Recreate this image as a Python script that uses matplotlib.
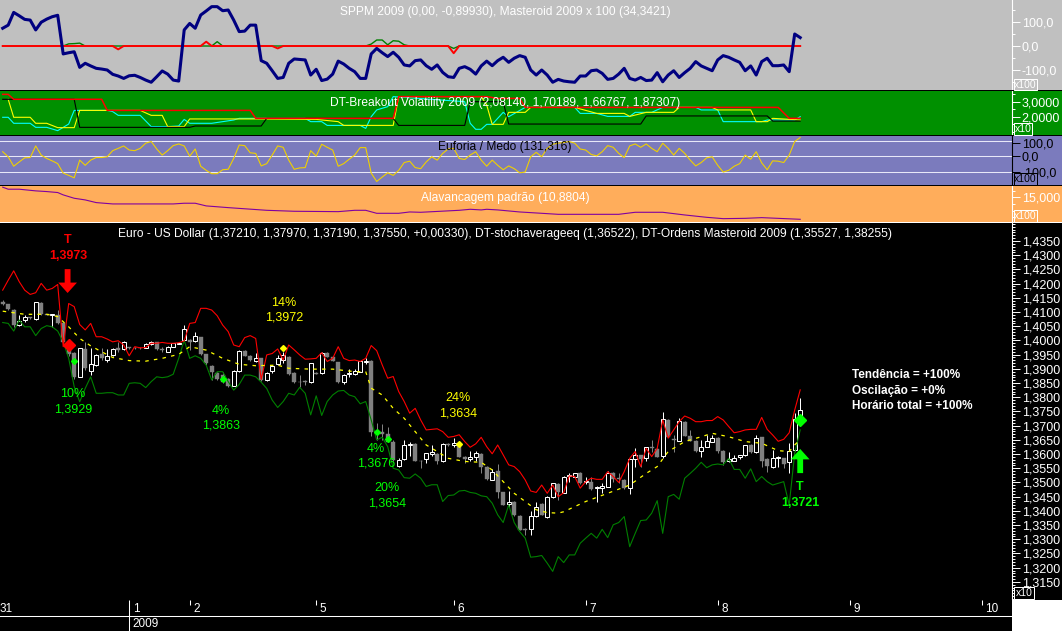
import numpy as np
import matplotlib
matplotlib.use("Agg")
import matplotlib.pyplot as plt
from matplotlib.patches import Rectangle
from matplotlib.ticker import FixedLocator, FixedFormatter, MultipleLocator, FuncFormatter

plt.rcParams["font.family"] = ["Liberation Sans", "DejaVu Sans"]

# hourly candles, EUR/USD
opens = [1.4134,1.4128,1.4107,1.4054,1.4072,1.4081,1.4074,1.4131,1.4093,1.4089,
         1.4089,1.4060,1.3995,1.3955,1.3872,1.3970,1.3893,1.3913,1.3951,1.3931,
         1.3949,1.3972,1.3970,1.3976,1.3975,1.3975,1.3975,1.3987,1.3993,1.3969,
         1.3960,1.3978,1.3989,1.4001,1.4001,1.3999,1.4011,1.3951,1.3910,1.3884,
         1.3878,1.3864,1.3840,1.3893,1.3962,1.3945,1.3927,1.3937,1.3861,1.3893,
         1.3917,1.3931,1.3941,1.3887,1.3855,1.3856,1.3852,1.3885,1.3885,1.3957,
         1.3941,1.3923,1.3855,1.3882,1.3881,1.3890,1.3925,1.3928,1.3680,1.3677,
         1.3671,1.3644,1.3559,1.3583,1.3632,1.3636,1.3577,1.3582,1.3601,1.3601,
         1.3574,1.3636,1.3631,1.3638,1.3590,1.3582,1.3591,1.3601,1.3556,1.3510,
         1.3541,1.3465,1.3424,1.3432,1.3382,1.3336,1.3336,1.3382,1.3425,1.3378,
         1.3448,1.3495,1.3464,1.3523,1.3521,1.3535,1.3500,1.3503,1.3480,1.3482,
         1.3485,1.3535,1.3515,1.3509,1.3482,1.3582,1.3595,1.3585,1.3625,1.3618,
         1.3593,1.3720,1.3653,1.3647,1.3714,1.3664,1.3647,1.3611,1.3626,1.3644,
         1.3658,1.3611,1.3577,1.3577,1.3589,1.3595,1.3633,1.3607,1.3659,1.3583,
         1.3553,1.3586,1.3585,1.3571,1.3614,1.3721]
highs = [1.4142,1.4130,1.4110,1.4089,1.4091,1.4084,1.4136,1.4134,1.4094,1.4094,
         1.4106,1.4062,1.4000,1.3960,1.3975,1.3995,1.3972,1.3951,1.3972,1.3970,
         1.3975,1.3995,1.3998,1.3978,1.3976,1.3976,1.3990,1.3997,1.3995,1.3978,
         1.3980,1.3992,1.3995,1.4054,1.4006,1.4028,1.4013,1.3953,1.3912,1.3890,
         1.3888,1.3868,1.3895,1.3966,1.3966,1.3948,1.3955,1.3939,1.3890,1.3913,
         1.3950,1.3961,1.3945,1.3890,1.3879,1.3861,1.3922,1.3888,1.3960,1.3960,
         1.3945,1.3925,1.3881,1.3899,1.3899,1.3928,1.3937,1.3930,1.3709,1.3706,
         1.3697,1.3650,1.3585,1.3650,1.3644,1.3638,1.3580,1.3605,1.3632,1.3603,
         1.3638,1.3638,1.3658,1.3642,1.3592,1.3612,1.3612,1.3603,1.3558,1.3547,
         1.3564,1.3468,1.3470,1.3434,1.3385,1.3338,1.3398,1.3431,1.3427,1.3452,
         1.3499,1.3497,1.3523,1.3532,1.3535,1.3537,1.3518,1.3518,1.3486,1.3497,
         1.3542,1.3537,1.3532,1.3511,1.3584,1.3620,1.3597,1.3626,1.3650,1.3620,
         1.3747,1.3722,1.3667,1.3726,1.3716,1.3685,1.3649,1.3650,1.3667,1.3667,
         1.3660,1.3613,1.3609,1.3597,1.3598,1.3633,1.3635,1.3667,1.3661,1.3585,
         1.3614,1.3593,1.3587,1.3638,1.3744,1.3797]
lows = [1.4124,1.4108,1.4048,1.4050,1.4066,1.4075,1.4072,1.4090,1.4088,1.4048,
        1.4058,1.3990,1.3945,1.3866,1.3870,1.3895,1.3878,1.3910,1.3930,1.3923,
        1.3945,1.3960,1.3965,1.3970,1.3970,1.3971,1.3973,1.3985,1.3968,1.3960,
        1.3958,1.3976,1.3987,1.3998,1.3966,1.3995,1.3949,1.3915,1.3860,1.3860,
        1.3850,1.3836,1.3838,1.3890,1.3944,1.3929,1.3925,1.3858,1.3856,1.3885,
        1.3915,1.3920,1.3880,1.3850,1.3835,1.3843,1.3850,1.3881,1.3882,1.3941,
        1.3927,1.3849,1.3847,1.3870,1.3878,1.3888,1.3917,1.3664,1.3650,1.3650,
        1.3642,1.3574,1.3555,1.3580,1.3594,1.3575,1.3550,1.3568,1.3594,1.3565,
        1.3572,1.3630,1.3624,1.3589,1.3568,1.3574,1.3574,1.3533,1.3510,1.3508,
        1.3445,1.3419,1.3415,1.3382,1.3331,1.3316,1.3316,1.3380,1.3384,1.3376,
        1.3446,1.3439,1.3462,1.3503,1.3518,1.3495,1.3495,1.3475,1.3433,1.3462,
        1.3483,1.3500,1.3497,1.3478,1.3460,1.3556,1.3556,1.3577,1.3609,1.3589,
        1.3585,1.3659,1.3609,1.3645,1.3662,1.3645,1.3609,1.3589,1.3624,1.3642,
        1.3605,1.3562,1.3573,1.3575,1.3582,1.3593,1.3605,1.3605,1.3556,1.3538,
        1.3550,1.3556,1.3550,1.3532,1.3612,1.3719]
closes = [1.4129,1.4110,1.4054,1.4069,1.4084,1.4078,1.4134,1.4093,1.4090,1.4093,
          1.4062,1.3995,1.3951,1.3872,1.3972,1.3902,1.3917,1.3949,1.3937,1.3945,
          1.3970,1.3968,1.3993,1.3972,1.3972,1.3973,1.3988,1.3995,1.3970,1.3968,
          1.3978,1.3990,1.3992,1.4039,1.3993,1.4015,1.3951,1.3919,1.3890,1.3864,
          1.3855,1.3840,1.3893,1.3964,1.3946,1.3931,1.3939,1.3861,1.3886,1.3911,
          1.3939,1.3949,1.3882,1.3853,1.3853,1.3855,1.3920,1.3883,1.3957,1.3943,
          1.3929,1.3855,1.3879,1.3887,1.3892,1.3926,1.3926,1.3679,1.3677,1.3671,
          1.3644,1.3580,1.3580,1.3632,1.3635,1.3577,1.3574,1.3603,1.3607,1.3574,
          1.3636,1.3632,1.3638,1.3591,1.3582,1.3591,1.3603,1.3556,1.3513,1.3538,
          1.3465,1.3421,1.3431,1.3384,1.3333,1.3331,1.3382,1.3415,1.3386,1.3450,
          1.3497,1.3466,1.3521,1.3527,1.3532,1.3497,1.3505,1.3477,1.3484,1.3487,
          1.3532,1.3511,1.3513,1.3480,1.3582,1.3595,1.3582,1.3624,1.3623,1.3591,
          1.3722,1.3661,1.3651,1.3717,1.3664,1.3647,1.3611,1.3626,1.3646,1.3656,
          1.3611,1.3573,1.3582,1.3587,1.3596,1.3631,1.3607,1.3658,1.3577,1.3558,
          1.3585,1.3589,1.3565,1.3611,1.3725,1.3755]

upper_band = [1.4177,1.4212,1.4245,1.4207,1.4177,1.4162,1.4168,1.4201,1.4177,1.4183,
              1.4197,1.3978,1.4130,1.4119,1.4056,1.4037,1.4060,1.4013,1.4013,1.4005,
              1.3995,1.3999,1.3984,1.3946,1.3978,1.3974,1.3975,1.3990,1.3990,1.3993,
              1.3990,1.3990,1.3992,1.3998,1.4060,1.4063,1.4113,1.4113,1.4107,1.4087,
              1.4054,1.4031,1.3984,1.3978,1.4010,1.4017,1.4007,1.3863,1.3949,1.3954,
              1.3970,1.3931,1.3984,1.3967,1.3949,1.3934,1.3935,1.3937,1.3957,1.3926,
              1.3937,1.3978,1.3937,1.3929,1.3931,1.3926,1.3937,1.3982,1.3964,1.3914,
              1.3867,1.3873,1.3820,1.3785,1.3744,1.3761,1.3720,1.3685,1.3687,1.3689,
              1.3679,1.3659,1.3662,1.3668,1.3644,1.3624,1.3636,1.3659,1.3626,1.3601,
              1.3632,1.3597,1.3562,1.3556,1.3538,1.3509,1.3470,1.3465,1.3491,1.3462,
              1.3491,1.3450,1.3464,1.3523,1.3521,1.3480,1.3503,1.3515,1.3511,1.3511,
              1.3538,1.3521,1.3500,1.3538,1.3585,1.3609,1.3556,1.3620,1.3591,1.3620,
              1.3720,1.3656,1.3685,1.3714,1.3734,1.3726,1.3714,1.3714,1.3718,1.3718,
              1.3732,1.3720,1.3697,1.3675,1.3679,1.3685,1.3687,1.3687,1.3729,1.3687,
              1.3667,1.3645,1.3652,1.3675,1.3755,1.3826]
lower_band = [1.4063,1.4060,1.4033,1.4072,1.4048,1.4048,1.4017,1.4042,1.4052,1.4048,
              1.4033,1.3995,1.3937,1.3837,1.3784,1.3831,1.3872,1.3814,1.3814,1.3816,
              1.3816,1.3808,1.3808,1.3849,1.3851,1.3849,1.3834,1.3855,1.3872,1.3869,
              1.3872,1.3881,1.3937,1.4001,1.3937,1.3946,1.3937,1.3913,1.3861,1.3890,
              1.3890,1.3855,1.3825,1.3845,1.3878,1.3878,1.3872,1.3853,1.3831,1.3790,
              1.3764,1.3785,1.3814,1.3808,1.3835,1.3814,1.3738,1.3805,1.3736,1.3785,
              1.3808,1.3822,1.3824,1.3808,1.3802,1.3777,1.3785,1.3720,1.3650,1.3659,
              1.3626,1.3550,1.3544,1.3517,1.3515,1.3530,1.3515,1.3486,1.3492,1.3492,
              1.3433,1.3454,1.3456,1.3470,1.3472,1.3465,1.3462,1.3453,1.3450,1.3427,
              1.3386,1.3359,1.3421,1.3359,1.3327,1.3304,1.3237,1.3239,1.3243,1.3216,
              1.3187,1.3239,1.3218,1.3245,1.3245,1.3286,1.3304,1.3321,1.3304,1.3335,
              1.3306,1.3351,1.3359,1.3380,1.3274,1.3321,1.3366,1.3368,1.3392,1.3436,
              1.3321,1.3450,1.3458,1.3441,1.3515,1.3532,1.3550,1.3571,1.3552,1.3562,
              1.3565,1.3562,1.3585,1.3546,1.3546,1.3515,1.3548,1.3503,1.3521,1.3503,
              1.3491,1.3497,1.3503,1.3421,1.3603,1.3685]

ma_bars = [0,4,8,10,12,14,16,18,20,23,26,29,32,34,37,40,43,46,50,52,56,60,64,66,67,69,71,73,75,77,79,81,84,87,89,
           91,93,95,97,99,101,102,106,110,114,117,119,121,124,127,129,132,135,138,141,143,144,145]
ma_vals = [1.4103,1.4092,1.4092,1.4084,1.4048,1.4007,1.3981,1.3960,1.3940,1.3929,1.3927,1.3937,1.3951,1.3978,1.3966,
           1.3937,1.3916,1.3911,1.3913,1.3902,1.3899,1.3899,1.3890,1.3890,1.3832,1.3808,1.3761,1.3726,1.3679,1.3632,
           1.3609,1.3585,1.3574,1.3571,1.3544,1.3503,1.3462,1.3433,1.3404,1.3394,1.3392,1.3397,1.3433,1.3462,1.3491,
           1.3532,1.3556,1.3609,1.3644,1.3661,1.3673,1.3661,1.3644,1.3638,1.3612,1.3609,1.3632,1.3652]

# SPPM / Masteroid panel
masteroid = [74,87,140,126,111,108,67,99,112,122,128,-33,-28,-24,-89,-72,-83,-93,-96,-100,-118,-125,-135,-124,-122,
             -131,-142,-151,-128,-104,-117,-142,-146,67,94,74,129,146,164,164,147,150,108,60,62,87,87,-61,-72,-103,
             -135,-131,-72,-54,-56,-58,-121,-97,-144,-138,-117,-63,-75,-93,-107,-135,-135,-33,-10,-28,-44,-26,-47,
             -79,-83,-61,-58,-82,-97,-79,-110,-128,-131,-93,-86,-97,-117,-83,-63,-82,-61,-47,-68,-51,-40,-47,-100,
             -121,-100,-121,-151,-139,-146,-149,-151,-125,-125,-103,-100,-114,-139,-135,-117,-93,-135,-142,-131,
             -144,-142,-111,-149,-121,-103,-131,-111,-93,-65,-83,-93,-103,-58,-40,-47,-58,-68,-103,-83,-121,-65,
             -51,-82,-82,-79,-107,50,35]
sppm_red_bars = [20,21,22,36,37,38,49,50,51,81,82,83]
sppm_red_vals = [0,-14,0,0,18,0,0,-10,0,0,-30,0]
sppm_green_bars = [11,12,13,14,15,38,39,40,66,67,68,69,70,71,72,73,81,82,83]
sppm_green_vals = [0,9,10,12,0,0,18,0,0,8,25,25,5,22,20,5,0,-10,0]

# DT-Breakout Volatility panel
brk_red_bars = [0,1,2,18,19,45,46,71,72,88,90,94,95,141,143,145]
brk_red_vals = [3.51,3.51,3.18,3.18,2.44,2.44,1.91,1.91,3.36,3.36,3.24,3.24,2.64,2.64,1.91,1.91]
brk_black_bars = [0,13,14,34,35,47,48,71,72,84,85,91,92,116,117,139,140,145]
brk_black_vals = [3.18,3.18,1.31,1.31,1.40,1.40,1.91,1.91,1.44,1.44,3.02,3.02,1.53,1.53,2.07,2.07,1.73,1.73]
brk_yellow_bars = [1,2,5,6,8,10,13,14,25,27,29,30,33,34,46,57,61,62,71,72,87,88,89,91,92,95,96,104,108,113,114,117,
                   122,123,129,130,136,137,139,140,145]
brk_yellow_vals = [3.18,1.98,1.98,1.58,1.58,1.29,1.29,2.44,2.44,2.11,2.11,1.36,1.36,1.87,1.87,1.84,1.69,1.44,1.44,
                   3.36,3.36,2.80,1.51,1.51,2.31,2.31,2.64,2.64,2.24,2.24,2.04,2.31,2.31,2.64,2.64,2.47,2.47,1.69,
                   1.69,1.91,1.80]
brk_cyan_bars = [0,1,2,5,6,8,10,12,13,19,20,21,25,27,30,32,33,34,38,42,43,55,56,58,59,65,66,67,68,70,71,84,85,86,87,
                 88,89,91,92,95,104,105,108,110,114,115,118,120,126,127,130,131,138,139,144,145]
brk_cyan_vals = [1.98,1.98,1.58,1.58,1.31,1.31,1.09,1.53,2.44,2.44,2.36,2.11,2.11,1.36,1.36,1.40,1.84,1.58,1.58,1.80,
                 1.91,1.91,1.69,1.69,1.44,1.44,1.24,2.02,2.47,2.69,3.36,3.02,1.58,1.18,1.18,1.51,1.51,2.31,2.02,
                 2.64,2.64,2.24,2.24,2.04,2.04,2.31,2.31,2.64,2.64,2.47,2.47,1.69,1.69,1.80,1.80,2.02]

# Euforia / Medo panel
euforia = [31,-2,-64,-36,-9,-7,69,9,-13,-29,-47,-109,-124,-140,-24,-58,-24,-7,-7,-2,38,53,69,42,38,53,87,98,49,9,38,
           71,82,69,2,49,-64,-91,-113,-113,-87,-84,-13,75,71,24,20,-62,-47,9,69,60,-24,-84,-75,-73,38,2,80,60,42,
           -64,-47,-18,9,58,58,-109,-164,-135,-107,-124,-91,-40,-31,-73,-80,-36,-2,-24,20,49,53,-13,-20,9,31,-24,
           -64,-24,-58,-87,-62,-80,-107,-102,-2,27,-2,53,80,87,91,98,87,49,42,13,4,31,71,60,20,-7,69,82,60,82,53,
           31,87,53,9,53,20,-24,-62,-40,-9,-2,-58,-102,-91,-64,-47,9,-18,31,-42,-87,-29,-31,-40,9,98,124]
euforia_levels = [100, 0, -100]
euforia_labels = ["100,0", "0,0", "-100,0"]

# Alavancagem panel
alav_bars = [0,1,3,6,8,10,11,13,15,17,20,31,33,35,37,41,48,53,61,64,66,68,72,74,76,83,85,87,88,90,94,98,101,112,115,
             120,124,128,131,135,138,145]
alav_vals = [16.88,16.50,16.50,16.19,16.06,15.88,15.44,14.81,14.50,14.00,13.75,13.75,13.88,13.88,13.38,13.06,12.56,
             12.38,12.31,12.56,12.56,12.00,12.00,12.25,12.19,12.56,12.75,12.63,12.75,12.63,12.25,12.00,11.81,11.81,
             12.19,12.19,11.69,11.25,11.00,11.06,11.19,10.88]

# order signals drawn on the price chart
big_red_bar, big_red_price = 12, 1.3985
big_green_bar, big_green_price = 145, 1.3721
small_green_bars = [13, 40, 68, 70]
small_green_prices = [1.3929, 1.3863, 1.3676, 1.3654]
small_yellow_bars = [51, 83]
small_yellow_prices = [1.3972, 1.3634]

day_bars = [23, 34, 57, 82, 106, 130, 154, 178]
day_labels = ["1", "2", "5", "6", "7", "8", "9", "10"]
price_ticks = [1.315 + 0.005 * k for k in range(25)]

W, H = 1062, 631
AXIS_X = 1012
BAR_X0, BAR_STEP = 2.7, 5.5
bars = np.arange(len(closes))
xlim = (-BAR_X0 / BAR_STEP, (AXIS_X - BAR_X0) / BAR_STEP)

GRAY_BG = "#C0C0C0"
GREEN_BG = "#009000"
BLUE_BG = "#7B7BBD"
ORANGE_BG = "#FFAD5B"
THIN = 0.8

fig = plt.figure(figsize=(W / 100, H / 100), dpi=100, facecolor="white")


def rect_px(x0, y0, x1, y1, face, edge="none", z=-1, lw=0.72):
    fig.add_artist(Rectangle((x0 / W, 1 - y1 / H), (x1 - x0) / W, (y1 - y0) / H, transform=fig.transFigure,
                             facecolor=face, edgecolor=edge, linewidth=lw, zorder=z))


def text_px(x, y, s, color="white", size=9, ha="center", **kw):
    fig.text(x / W, 1 - (y + 1) / H, s, color=color, fontsize=size, ha=ha, va="center", zorder=6, **kw)


def panel(top, bottom, bg, spine):
    ax = fig.add_axes([0, 1 - bottom / H, AXIS_X / W, (bottom - top) / H], facecolor=bg)
    ax.set_xlim(xlim)
    ax.set_xticks([])
    for side in ("top", "left", "bottom"):
        ax.spines[side].set_visible(False)
    ax.spines["right"].set_color(spine)
    ax.spines["right"].set_linewidth(0.8)
    ax.yaxis.tick_right()
    ax.tick_params(axis="y", which="major", length=5.5, width=0.7, color=spine, labelcolor=spine,
                   labelsize=9, pad=1.5)
    ax.tick_params(axis="y", which="minor", length=2.5, width=0.7, color=spine)
    # background carries on right of the scale
    rect_px(AXIS_X, top, W, bottom, bg)
    return ax


def comma(fmt):
    return FuncFormatter(lambda v, pos: format(v, fmt).replace(".", ","))


# top panel
ax1 = panel(0, 90, GRAY_BG, "white")
ax1.set_ylim(-183.3, 191.7)
ax1.yaxis.set_major_locator(FixedLocator([100, 0, -100]))
ax1.yaxis.set_minor_locator(MultipleLocator(50))
ax1.yaxis.set_major_formatter(comma(".1f"))
green_line = np.zeros(len(bars))
green_line[sppm_green_bars] = sppm_green_vals
red_line = np.zeros(len(bars))
red_line[sppm_red_bars] = sppm_red_vals
ax1.plot(bars, green_line, color="#007F00", lw=1.0)
ax1.plot(bars, red_line, color="#FF0000", lw=1.4)
ax1.plot(bars, masteroid, color="#000080", lw=2.2)

# breakout panel
ax2 = panel(91, 135, GREEN_BG, "white")
ax2.set_ylim(0.8, 3.733)
ax2.yaxis.set_major_locator(FixedLocator([3, 2]))
ax2.yaxis.set_minor_locator(MultipleLocator(0.5))
ax2.yaxis.set_major_formatter(comma(".4f"))
ax2.plot(brk_cyan_bars, brk_cyan_vals, color="#00FFFF", lw=THIN)
ax2.plot(brk_yellow_bars, brk_yellow_vals, color="#FFFF00", lw=THIN)
ax2.plot(brk_black_bars, brk_black_vals, color="black", lw=THIN)
ax2.plot(brk_red_bars, brk_red_vals, color="#FF0000", lw=1.1)

# euforia panel
ax3 = panel(136, 185, BLUE_BG, "black")
ax3.set_ylim(-187, 134)
ax3.yaxis.set_major_locator(FixedLocator([87, 0, -100]))
ax3.yaxis.set_major_formatter(FixedFormatter(euforia_labels))
for level in euforia_levels:
    ax3.axhline(level, color="#E8E8F8", lw=0.75)
ax3.plot(bars, euforia, color="#F0D000", lw=THIN)

# alavancagem panel
ax4 = panel(186, 222, ORANGE_BG, "white")
ax4.set_ylim(10.375, 17.1)
ax4.yaxis.set_major_locator(FixedLocator([15]))
ax4.yaxis.set_minor_locator(MultipleLocator(1.25))
ax4.yaxis.set_major_formatter(comma(".3f"))
ax4.plot(alav_bars, alav_vals, color="#8000A0", lw=THIN)

# price panel
ax5 = panel(223, 600, "black", "white")
ax5.set_ylim(1.30863, 1.44134)
ax5.yaxis.set_major_locator(FixedLocator(price_ticks))
ax5.yaxis.set_minor_locator(MultipleLocator(0.001))
ax5.yaxis.set_major_formatter(comma(".4f"))

opens_a, highs_a, lows_a, closes_a = map(np.array, (opens, highs, lows, closes))
up = closes_a >= opens_a
ax5.vlines(bars[up], lows_a[up], highs_a[up], color="white", lw=0.72, zorder=2)
ax5.vlines(bars[~up], lows_a[~up], highs_a[~up], color="#808080", lw=0.72, zorder=2)
ax5.bar(bars[up], (closes_a - opens_a)[up], bottom=opens_a[up], width=0.66, facecolor="black",
        edgecolor="white", linewidth=0.72, zorder=2.2)
ax5.bar(bars[~up], (opens_a - closes_a)[~up], bottom=closes_a[~up], width=0.72, facecolor="#808080",
        edgecolor="#808080", linewidth=0.3, zorder=2.2)

ax5.plot(bars, lower_band, color="#008000", lw=THIN, zorder=3)
ax5.plot(bars, upper_band, color="#FF0000", lw=THIN, zorder=3)
ax5.plot(ma_bars, ma_vals, color="#FFFF00", lw=0.9, ls=(0, (2.8, 4.2)), zorder=3)

ax5.plot(small_green_bars, small_green_prices, "D", color="#00FF00", ms=3, zorder=4)
ax5.plot(small_yellow_bars, small_yellow_prices, "D", color="#FFFF00", ms=3, zorder=4)
ax5.plot(big_red_bar, big_red_price, "D", color="#FF0000", ms=6.5, zorder=5)
ax5.plot(big_green_bar, big_green_price, "D", color="#00FF00", ms=6.5, zorder=5)

ax5.annotate("", xy=(11.8, 1.4167), xytext=(11.8, 1.4251), zorder=5,
             arrowprops=dict(facecolor="#FF0000", edgecolor="#FF0000", width=4.2, headwidth=13.5, headlength=7.5,
                             shrink=0, linewidth=0))
ax5.annotate("", xy=(145, 1.3618), xytext=(145, 1.3533), zorder=5,
             arrowprops=dict(facecolor="#00FF00", edgecolor="#00FF00", width=4.2, headwidth=13.5, headlength=7.5,
                             shrink=0, linewidth=0))

# date strip
ax6 = fig.add_axes([0, 0, AXIS_X / W, 31 / H], facecolor="black")
ax6.set_xlim(xlim)
ax6.set_ylim(31, 0)
ax6.axis("off")
ax6.add_patch(Rectangle((xlim[0], 0), xlim[1] - xlim[0], 31, facecolor="black", edgecolor="none"))
ax6.axhline(16, color="white", lw=0.75)
ax6.vlines(day_bars[0], 0, 31, color="white", lw=0.75)
ax6.vlines(day_bars[1:], 0, 5, color="white", lw=0.75)
ax6.text(0.6, 9.5, "31", color="white", fontsize=8.5, ha="center", va="center")
for b, lab in zip(day_bars, day_labels):
    ax6.annotate(lab, (b, 9.5), xytext=(2.5, 0), textcoords="offset points", color="white", fontsize=8.5,
                 ha="left", va="center")
ax6.annotate("2009", (day_bars[0], 24), xytext=(2, 0), textcoords="offset points", color="white", fontsize=8.5,
             ha="left", va="center")

# separators
rect_px(0, 90, W, 91, "black", z=3)
rect_px(0, 135, W, 136, "black", z=3)
rect_px(0, 185, W, 186, "black", z=3)
rect_px(0, 222, W, 223, "white", z=3)

# scale boxes
rect_px(1014, 79, 1037, 90, GRAY_BG, edge="white", z=4)
text_px(1025.5, 84, "x100", size=7.5)
rect_px(1014, 123, 1032, 135, GREEN_BG, edge="white", z=4)
text_px(1023, 128, "x10", size=7.5)
rect_px(1014, 173, 1037, 185, BLUE_BG, edge="black", z=4)
text_px(1025.5, 178, "x100", color="black", size=7.5)
rect_px(1014, 210, 1037, 222, ORANGE_BG, edge="white", z=4)
text_px(1025.5, 215, "x100", size=7.5)
rect_px(1014, 587, 1034, 599, "black", edge="white", z=4)
text_px(1024, 592, "x10", size=7.5)

# titles
TITLE = 8.65
text_px(505, 11, "SPPM 2009 (0,00, -0,89930), Masteroid 2009 x 100 (34,3421)", size=TITLE)
text_px(505, 102, "DT-Breakout Volatility 2009 (2,08140, 1,70189, 1,66767, 1,87307)", size=TITLE)
text_px(505, 146, "Euforia / Medo (131,316)", color="black", size=TITLE)
text_px(505, 197, "Alavancagem padrão (10,8804)", size=TITLE)
text_px(505, 233, "Euro - US Dollar (1,37210, 1,37970, 1,37190, 1,37550, +0,00330), DT-stochaverageeq (1,36522), "
                  "DT-Ordens Masteroid 2009 (1,35527, 1,38255)", size=TITLE)

# price chart labels
text_px(68, 239, "T", color="#FF0000", fontweight="bold")
text_px(68, 255, "1,3973", color="#FF0000", fontweight="bold")
text_px(73, 393, "10%", color="#00FF00")
text_px(73, 409, "1,3929", color="#00FF00")
text_px(221, 410, "4%", color="#00FF00")
text_px(221, 425, "1,3863", color="#00FF00")
text_px(284, 302, "14%", color="#FFFF00")
text_px(284, 316, "1,3972", color="#FFFF00")
text_px(376, 448, "4%", color="#00FF00")
text_px(376, 463, "1,3676", color="#00FF00")
text_px(387, 487, "20%", color="#00FF00")
text_px(387, 503, "1,3654", color="#00FF00")
text_px(458, 397, "24%", color="#FFFF00")
text_px(458, 412, "1,3634", color="#FFFF00")
text_px(800, 486, "T", color="#00FF00", fontweight="bold")
text_px(800, 502, "1,3721", color="#00FF00", fontweight="bold")
text_px(852, 374, "Tendência = +100%", ha="left", fontweight="bold", size=8.5)
text_px(852, 390, "Oscilação = +0%", ha="left", fontweight="bold", size=8.5)
text_px(852, 405, "Horário total = +100%", ha="left", fontweight="bold", size=8.5)

fig.savefig("out.png", dpi=100)
